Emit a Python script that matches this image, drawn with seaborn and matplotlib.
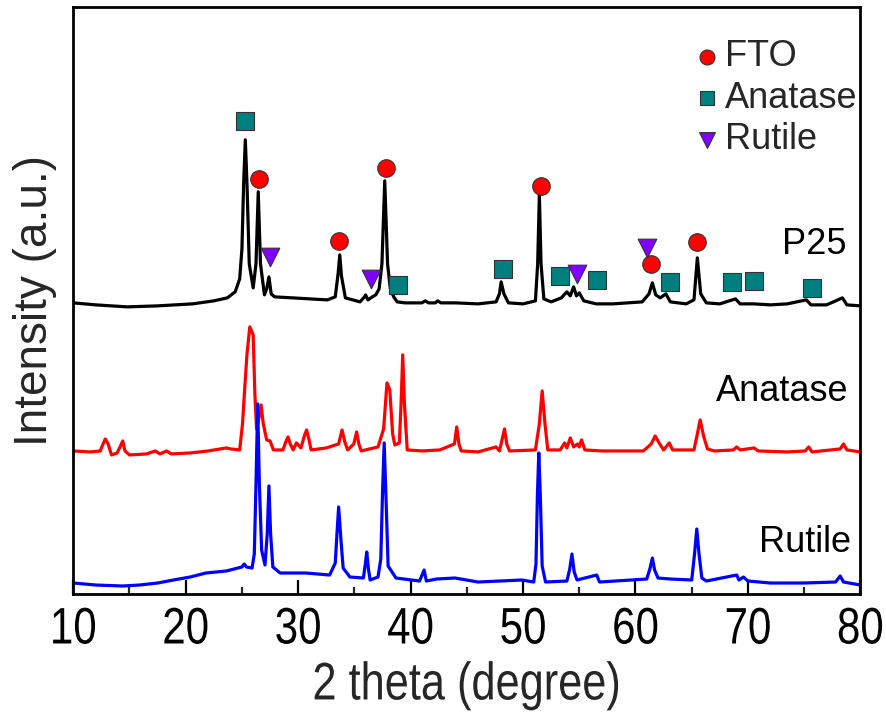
import matplotlib
matplotlib.use("Agg")
import matplotlib.pyplot as plt
import seaborn as sns
import pandas as pd
from matplotlib import font_manager
from matplotlib.ticker import MultipleLocator
from matplotlib.patheffects import AbstractPathEffect
from matplotlib.transforms import Affine2D

# ---------------- data (2theta, intensity with vertical offset, a.u.) ----------------
p25_curve = [(10,291),(12,289),(14.8,287),(17.5,288),(20.6,290),(22.5,293),(23.7,296),(24.4,302),
             (24.8,315),(25.0,345),(25.15,410),(25.3,454),(25.45,410),(25.65,330),(26.0,306),(26.25,330),
             (26.45,402),(26.65,330),(27.0,299),(27.2,305),(27.4,317),(27.6,300),(27.9,297),(29.5,296),
             (31,295),(32.6,294),(33.3,297),(33.55,320),(33.7,339),(33.85,318),(34.2,296),(35.5,292),
             (35.9,297),(36.0,299),(36.2,294),(36.6,297),(36.9,299),(37.2,305),(37.45,330),(37.7,413),
             (37.95,330),(38.2,305),(38.5,297),(38.8,292),(39.5,291),(41.0,291),(41.3,293),(41.6,291),
             (42.2,291),(42.4,293),(42.7,291),(44,291),(46,290),(47.6,292),(47.9,300),(48.05,312),
             (48.3,300),(48.7,291),(50,290),(51.1,293),(51.3,330),(51.45,399),(51.6,330),(51.85,295),
             (52.5,292),(53.4,296),(53.9,302),(54.2,298),(54.5,307),(54.75,298),(55.0,301),(55.4,293),
             (56.5,290),(58,290),(60.6,292),(61.2,300),(61.5,311),(61.8,299),(62.2,296),(62.7,300),
             (63.1,292),(64.5,290),(65.2,294),(65.5,336),(65.8,300),(66.3,291),(67.5,290),(68.9,295),
             (69.3,290),(70.5,290),(72,289),(73.5,290),(75.2,294),(75.6,289),(77,289),(78.4,296),
             (78.8,289),(80,288)]

anatase_curve = [(10,143),(11.5,142),(12.4,143),(12.65,150),(12.85,155),(13.1,150),(13.4,139),(13.9,141),
                 (14.2,148),(14.4,153),(14.6,143),(15.0,139),(16.5,140),(17.3,143),(17.7,140),(18.3,143),
                 (18.7,140),(20.4,141),(22.0,143),(23.6,146),(24.0,145),(24.8,144),(25.05,170),(25.25,206),
                 (25.45,240),(25.7,267),(26.0,259),(26.15,200),(26.3,165),(26.5,175),(26.7,189),(26.9,170),
                 (27.2,154),(27.5,153),(27.8,144),(28.65,144),(28.9,152),(29.1,157),(29.3,150),(29.55,144),
                 (29.85,151),(30.25,146),(30.55,158),(30.75,164),(30.95,155),(31.15,144),(32.5,146),(33.6,150),
                 (33.9,164),(34.15,152),(34.4,144),(34.95,150),(35.2,162),(35.4,150),(35.6,143),(37.1,147),
                 (37.6,165),(37.9,211),(38.15,204),(38.4,160),(38.6,149),(39.0,151),(39.15,190),(39.3,239),
                 (39.45,190),(39.7,144),(41.0,143),(42.6,144),(43.9,150),(44.1,167),(44.3,150),(44.5,143),
                 (46.0,142),(47.6,147),(47.9,143),(48.15,155),(48.35,165),(48.55,150),(48.8,143),(51.1,144),
                 (51.45,170),(51.7,203),(51.95,170),(52.2,144),(53.3,144),(53.7,151),(53.9,146),(54.2,156),
                 (54.5,147),(54.85,150),(55.0,147),(55.2,154),(55.5,144),(57.0,143),(60.7,143),(61.4,150),
                 (61.75,158),(62.1,151),(62.5,144),(63.0,151),(63.3,144),(65.2,144),(65.5,160),(65.75,174),
                 (66.05,158),(66.4,145),(67.0,143),(68.7,144),(69.0,147),(69.3,144),(70.55,146),(70.9,143),
                 (73.5,142),(75.1,143),(75.4,147),(75.7,142),(76.5,143),(78.2,145),(78.5,150),(78.8,144),
                 (80,142)]

rutile_curve = [(10,11),(12,9),(14.4,8),(15.9,9),(17.5,11),(18.9,14),(20.4,17),(21.8,21),(23.6,23),
                (25.0,27),(25.2,30),(25.4,27),(25.9,26),(26.1,40),(26.25,110),(26.4,190),(26.55,110),
                (26.75,44),(27.05,29),(27.25,60),(27.4,108),(27.55,60),(27.75,27),(28.4,21),(30.7,21),
                (32.8,19),(33.3,31),(33.45,60),(33.6,87),(33.8,55),(34.0,26),(34.6,17),(35.8,16),(35.95,28),
                (36.1,42),(36.25,25),(36.4,14),(37.1,17),(37.35,35),(37.5,100),(37.65,151),(37.8,100),
                (38.0,28),(38.7,16),(40.8,13),(41.2,24),(41.4,13),(42.3,15),(43.95,16),(46,12),(49.9,14),
                (50.95,12),(51.15,30),(51.28,100),(51.4,141),(51.53,100),(51.7,28),(52.0,12),(53.9,13),
                (54.15,25),(54.35,40),(54.55,22),(54.8,14),(56.55,19),(56.8,12),(61.0,15),(61.3,26),
                (61.5,36),(61.7,24),(62.0,16),(63.1,15),(65.0,14),(65.25,40),(65.45,65),(65.65,40),
                (65.9,16),(66.3,13),(69.0,19),(69.2,14),(69.6,17),(70,13),(72.0,11),(74.95,11),(77.8,12),
                (78.2,18),(78.5,12),(80,9)]

fto_theta = [26.54, 33.63, 37.8, 51.6, 61.4, 65.5]
fto_y = [415, 353, 426, 408, 330, 352]
anatase_theta = [25.3, 38.85, 48.2, 53.3, 56.6, 63.1, 68.6, 70.5, 75.7]
anatase_y = [473, 309, 325, 318, 314, 312, 312, 313, 306]
rutile_theta = [27.5, 36.5, 54.8, 61.0]
rutile_y = [337, 315, 320, 346]

sample_names = ["P25", "Anatase", "Rutile"]
sample_label_pos = [(78.8, 349), (78.9, 202), (79.15, 51)]
xtick_values = [10, 20, 30, 40, 50, 60, 70, 80]
xtick_labels = ["10", "20", "30", "40", "50", "60", "70", "80"]


class Tall(AbstractPathEffect):
    """Stretch text vertically about its own centre (narrow-face look, true width kept)."""
    def __init__(self, sy=1.22):
        super().__init__()
        self.sy = sy

    def draw_path(self, renderer, gc, tpath, affine, rgbFace=None):
        ext = tpath.get_extents()
        cy = 0.5 * (ext.y0 + ext.y1)
        t = Affine2D().translate(0, -cy).scale(1, self.sy).translate(0, cy) + affine
        renderer.draw_path(gc, tpath, t, rgbFace)


# ---------------- style ----------------
sns.set_theme(style="white")
avail = {f.name for f in font_manager.fontManager.ttflist}
regular = "Liberation Sans" if "Liberation Sans" in avail else "DejaVu Sans"
plt.rcParams["font.family"] = [regular, "DejaVu Sans"]

fig, ax = plt.subplots(figsize=(8.87, 7.15), dpi=100)
fig.subplots_adjust(left=0.0826, right=0.970, bottom=0.1692, top=0.9906)

for curve, color in [(p25_curve, "black"), (anatase_curve, "#ff0000"), (rutile_curve, "#0000ff")]:
    df = pd.DataFrame(curve, columns=["theta", "intensity"])
    sns.lineplot(data=df, x="theta", y="intensity", color=color, lw=2.3,
                 estimator=None, sort=False, ax=ax, legend=False)

sns.scatterplot(x=fto_theta, y=fto_y, marker="o", s=160, color="#ff0000",
                edgecolor="#333333", linewidth=0.8, label="FTO", zorder=5, ax=ax)
sns.scatterplot(x=anatase_theta, y=anatase_y, marker="s", s=155, color="#007f7f",
                edgecolor="#333333", linewidth=0.8, label="Anatase", zorder=5, ax=ax)
sns.scatterplot(x=rutile_theta, y=rutile_y, marker="v", s=180, color="#7f00ff",
                edgecolor="#333333", linewidth=0.8, label="Rutile", zorder=5, ax=ax)

for name, (tx, ty) in zip(sample_names, sample_label_pos):
    ax.text(tx, ty, name, ha="right", va="center", fontsize=26, color="black")

leg = ax.legend(loc="upper left", bbox_to_anchor=(0.755, 0.975), frameon=False,
                fontsize=26, handletextpad=-0.1, labelspacing=0.18, borderpad=0,
                handlelength=1.2, markerscale=0.85)

ax.set_xlim(10, 80)
ax.set_ylim(0, 587)
ax.set_xticks(xtick_values, labels=xtick_labels)
ax.xaxis.set_minor_locator(MultipleLocator(5))
ax.set_yticks([])
ax.tick_params(axis="x", which="major", direction="in", length=10, width=1.6,
               labelsize=30.3, pad=11, bottom=True, top=False, colors="black")
ax.tick_params(axis="x", which="minor", direction="in", length=5, width=1.6,
               bottom=True, top=False)
for lbl in ax.get_xticklabels():
    lbl.set_path_effects([Tall(1.22)])
for sp in ax.spines.values():
    sp.set_linewidth(2)
    sp.set_color("black")

xl = ax.set_xlabel("2 theta (degree)", fontsize=31.2, labelpad=12)
xl.set_path_effects([Tall(1.22)])
ax.set_ylabel("Intensity (a.u.)", fontsize=33, labelpad=12)

fig.savefig("out.png", dpi=100)
